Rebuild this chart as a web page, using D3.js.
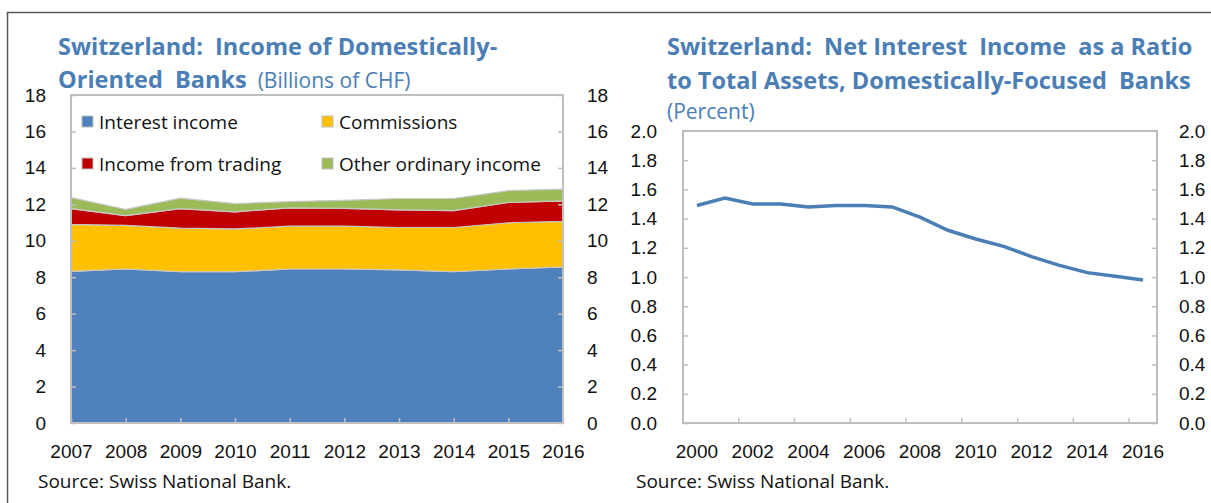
<!DOCTYPE html>
<html>
<head>
<meta charset="utf-8">
<script src="https://cdn.jsdelivr.net/npm/d3@7"></script>
<style>
  body { margin: 0; background: #fff; }
  svg { display: block; font-family: "Open Sans", "Noto Sans", sans-serif; }
  text { white-space: pre; }
</style>
</head>
<body>
<svg id="chart" width="1211" height="503"></svg>
<script>
// Left panel: income of domestically-oriented banks (billions of CHF)
const years = [2007, 2008, 2009, 2010, 2011, 2012, 2013, 2014, 2015, 2016];
const interestIncome = [8.32, 8.45, 8.30, 8.30, 8.45, 8.45, 8.40, 8.30, 8.45, 8.56];
const commissions = [2.58, 2.39, 2.39, 2.35, 2.35, 2.35, 2.33, 2.43, 2.54, 2.51];
const tradingIncome = [0.86, 0.54, 1.07, 0.94, 1.01, 0.98, 0.97, 0.93, 1.11, 1.12];
const otherIncome = [0.61, 0.34, 0.58, 0.45, 0.34, 0.44, 0.62, 0.66, 0.65, 0.65];
const seriesNames = ["Interest income", "Commissions", "Income from trading", "Other ordinary income"];
const seriesColors = ["#4F81BD", "#FFC000", "#C00000", "#9BBB59"];
const leftTicks = [0, 2, 4, 6, 8, 10, 12, 14, 16, 18];

// Right panel: net interest income / total assets (percent)
const nimYears = d3.range(2000, 2017);
const nimRatio = [1.49, 1.54, 1.50, 1.50, 1.48, 1.49, 1.49, 1.48, 1.41, 1.32, 1.26, 1.21, 1.14, 1.08, 1.03, 1.005, 0.98];
const rightTicks = [0, 0.2, 0.4, 0.6, 0.8, 1.0, 1.2, 1.4, 1.6, 1.8, 2.0];
const nimLabelYears = [2000, 2002, 2004, 2006, 2008, 2010, 2012, 2014, 2016];

const svg = d3.select("#chart");
const titleColor = "#4A7EB5";
const frameColor = "#BFBFBF";
const labelSize = "19px";

// outer border
svg.append("path")
  .attr("d", "M7.5,503 V12.5 H1211")
  .attr("fill", "none")
  .attr("stroke", "#595959")
  .attr("stroke-width", 1.5);

// ---------- left panel ----------
const L = { left: 71, right: 563, top: 95, bottom: 423 };
const x1 = d3.scalePoint().domain(years).range([L.left, L.right]);
const y1 = d3.scaleLinear().domain([0, 18]).range([L.bottom, L.top]);

const table = years.map((yr, i) => ({
  year: yr,
  "Interest income": interestIncome[i],
  "Commissions": commissions[i],
  "Income from trading": tradingIncome[i],
  "Other ordinary income": otherIncome[i]
}));
const stacked = d3.stack().keys(seriesNames)(table);

const area = d3.area()
  .x(d => x1(d.data.year))
  .y0(d => y1(d[0]))
  .y1(d => y1(d[1]));

svg.append("g").selectAll("path")
  .data(stacked)
  .enter()
  .append("path")
  .attr("d", area)
  .attr("fill", (d, i) => seriesColors[i])
  .attr("stroke", "#C8C8C8")
  .attr("stroke-width", 1.2);

// legend (inside plot)
const legendPos = [[88, 122], [328, 122], [88, 164], [328, 164]];
const legend = svg.append("g");
seriesNames.forEach((name, i) => {
  const [lx, ly] = legendPos[i];
  legend.append("rect")
    .attr("x", lx - 6).attr("y", ly - 6)
    .attr("width", 11).attr("height", 11)
    .attr("fill", seriesColors[i])
    .attr("stroke", "#BFBFBF").attr("stroke-width", 1);
  legend.append("text")
    .attr("x", lx + 11).attr("y", ly)
    .attr("dy", "0.35em")
    .attr("font-size", labelSize)
    .attr("fill", "#111")
    .text(name);
});

function styleAxis(g) {
  g.select(".domain").remove();
  g.selectAll(".tick line").attr("stroke", frameColor).attr("stroke-width", 1.5);
  g.selectAll(".tick text").attr("font-size", labelSize).attr("fill", "#111").attr("font-family", null);
}

svg.append("g")
  .attr("transform", `translate(${L.left},0)`)
  .call(d3.axisLeft(y1).tickValues(leftTicks).tickSize(-5).tickPadding(25))
  .call(styleAxis);
svg.append("g")
  .attr("transform", `translate(${L.right},0)`)
  .call(d3.axisRight(y1).tickValues(leftTicks).tickSize(-5).tickPadding(24))
  .call(styleAxis);
svg.append("g")
  .attr("transform", `translate(0,${L.bottom})`)
  .call(d3.axisBottom(x1).tickSize(-5).tickPadding(22).tickFormat(d3.format("d")))
  .call(styleAxis);

svg.append("rect")
  .attr("x", L.left).attr("y", L.top)
  .attr("width", L.right - L.left).attr("height", L.bottom - L.top)
  .attr("fill", "none").attr("stroke", frameColor).attr("stroke-width", 2);

const t1 = svg.append("text").attr("x", 58).attr("y", 55)
  .attr("font-size", "23.5px").attr("font-weight", "bold").attr("fill", titleColor);
t1.text("Switzerland:  Income of Domestically-");
const t2 = svg.append("text").attr("x", 58).attr("y", 88)
  .attr("font-size", "23.5px").attr("fill", titleColor);
t2.append("tspan").attr("font-weight", "bold").text("Oriented  Banks");
t2.append("tspan").attr("font-size", "21px").text("  (Billions of CHF)");

svg.append("text").attr("x", 38).attr("y", 488)
  .attr("font-size", "19px").attr("fill", "#111")
  .text("Source: Swiss National Bank.");

// ---------- right panel ----------
const R = { left: 683, right: 1157, top: 131, bottom: 423 };
const x2 = d3.scaleBand().domain(nimYears).range([R.left, R.right]);
const y2 = d3.scaleLinear().domain([0, 2]).range([R.bottom, R.top]);

svg.append("g")
  .attr("transform", `translate(${R.left},0)`)
  .call(d3.axisLeft(y2).tickValues(rightTicks).tickSize(-5).tickPadding(26).tickFormat(d3.format(".1f")))
  .call(styleAxis);
svg.append("g")
  .attr("transform", `translate(${R.right},0)`)
  .call(d3.axisRight(y2).tickValues(rightTicks).tickSize(-5).tickPadding(22).tickFormat(d3.format(".1f")))
  .call(styleAxis);

// year labels centred on bands (axis does that), tick marks on band edges
svg.append("g")
  .attr("transform", `translate(0,${R.bottom})`)
  .call(d3.axisBottom(x2).tickValues(nimLabelYears).tickSize(0).tickPadding(22))
  .call(styleAxis);
svg.append("g").selectAll("line")
  .data(nimLabelYears.slice(1))
  .enter()
  .append("line")
  .attr("x1", d => x2(d)).attr("x2", d => x2(d))
  .attr("y1", R.bottom).attr("y2", R.bottom - 5)
  .attr("stroke", frameColor).attr("stroke-width", 1.5);

svg.append("rect")
  .attr("x", R.left).attr("y", R.top)
  .attr("width", R.right - R.left).attr("height", R.bottom - R.top)
  .attr("fill", "none").attr("stroke", frameColor).attr("stroke-width", 2);

const line = d3.line()
  .x((d, i) => x2(nimYears[i]) + x2.bandwidth() / 2)
  .y(d => y2(d));
svg.append("path")
  .datum(nimRatio)
  .attr("d", line)
  .attr("fill", "none")
  .attr("stroke", "#4A7EB5")
  .attr("stroke-width", 3.5);

svg.append("text").attr("x", 667).attr("y", 55)
  .attr("font-size", "23.5px").attr("font-weight", "bold").attr("fill", titleColor)
  .text("Switzerland:  Net Interest  Income  as a Ratio");
svg.append("text").attr("x", 667).attr("y", 89)
  .attr("font-size", "23.5px").attr("font-weight", "bold").attr("fill", titleColor)
  .text("to Total Assets, Domestically-Focused  Banks");
svg.append("text").attr("x", 667).attr("y", 119)
  .attr("font-size", "21px").attr("fill", titleColor)
  .text("(Percent)");

svg.append("text").attr("x", 636).attr("y", 488)
  .attr("font-size", "19px").attr("fill", "#111")
  .text("Source: Swiss National Bank.");
</script>
</body>
</html>
